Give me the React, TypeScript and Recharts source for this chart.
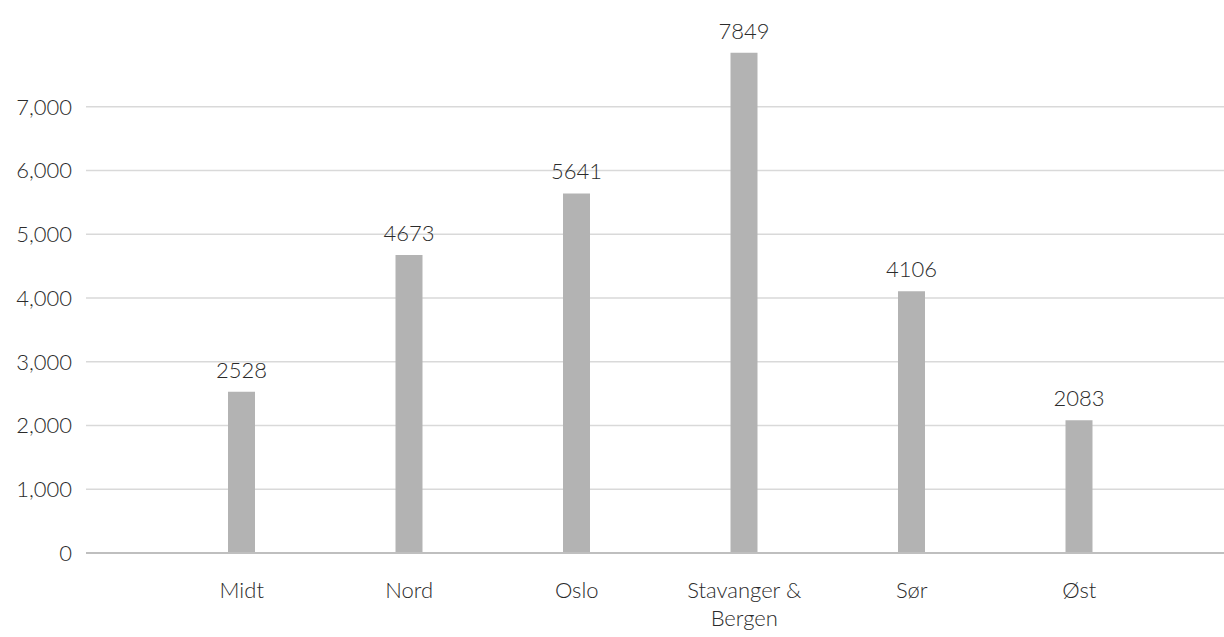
import { BarChart, Bar, XAxis, YAxis, CartesianGrid, LabelList, ReferenceLine } from "recharts";

const regions = ["Midt", "Nord", "Oslo", "Stavanger & Bergen", "Sør", "Øst"];
const counts = [2528, 4673, 5641, 7849, 4106, 2083];
const yTicks = [0, 1000, 2000, 3000, 4000, 5000, 6000, 7000];

const data = regions.map((name, i) => ({ name, value: counts[i] }));

const FONT = "Lato, 'Open Sans', sans-serif";
const TEXT = "#2b2b2b";

// splitter lange kategorinavn på to linjer (siste ord på egen linje)
const CategoryTick = ({ x, y, payload }: any) => {
  const words = String(payload.value).split(" ");
  const lines = words.length > 2 ? [words.slice(0, -1).join(" "), words[words.length - 1]] : [payload.value];
  return (
    <text x={x} y={y} textAnchor="middle" fontFamily={FONT} fontSize={22} fontWeight={300} fill={TEXT}>
      {lines.map((l: string, i: number) => (
        <tspan key={i} x={x} dy={i === 0 ? 37 : 28}>
          {l}
        </tspan>
      ))}
    </text>
  );
};

export default function App() {
  return (
    <div style={{ position: "absolute", left: 0, top: 0, width: 1224, height: 637, background: "#fff" }}>
      <BarChart
        width={1224}
        height={637}
        data={data}
        margin={{ top: 43, right: 0, bottom: 54, left: 0 }}
      >
        <CartesianGrid vertical={false} stroke="#d9d9d9" strokeWidth={1.5} horizontalValues={yTicks} />
        <XAxis
          dataKey="name"
          tick={<CategoryTick />}
          tickLine={false}
          axisLine={false}
          padding={{ left: 72, right: 61 }}
          interval={0}
        />
        <YAxis
          width={86}
          domain={[0, 8000]}
          ticks={yTicks}
          tickFormatter={(v: number) => v.toLocaleString("en-US")}
          axisLine={false}
          tickLine={false}
          tickSize={6}
          tickMargin={8}
          tick={{ fontFamily: FONT, fontSize: 22, fontWeight: 300, fill: TEXT }}
        />
        <ReferenceLine y={0} stroke="#bfbfbf" strokeWidth={2} />
        <Bar dataKey="value" fill="#b3b3b3" barSize={27} isAnimationActive={false}>
          <LabelList
            dataKey="value"
            position="top"
            offset={14}
            style={{ fontFamily: FONT, fontSize: 22, fontWeight: 300, fill: TEXT }}
          />
        </Bar>
      </BarChart>
    </div>
  );
}
